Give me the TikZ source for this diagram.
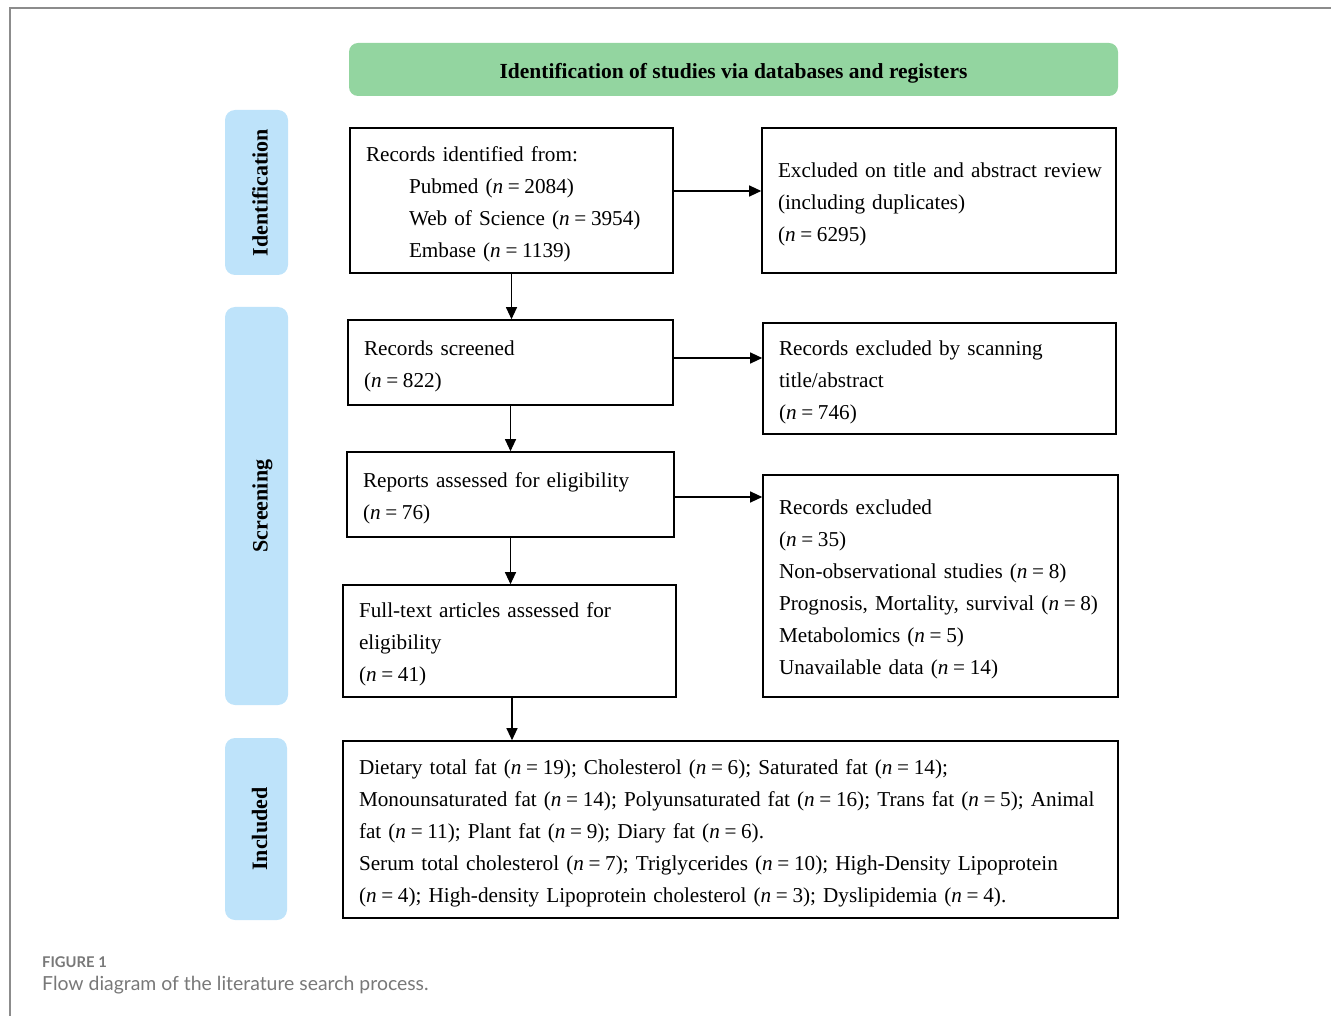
\documentclass[tikz,border=0pt]{standalone}
\usepackage{fontspec}
\setmainfont{Liberation Serif}
\newfontfamily\capfont{Lato}
\usetikzlibrary{arrows.meta}
\definecolor{hdrgreen}{RGB}{147,213,160}
\definecolor{sideblue}{RGB}{190,227,250}
\definecolor{framegray}{RGB}{140,140,140}
\definecolor{capgray}{RGB}{120,120,120}
\newcommand{\nn}{\textit{n}\hspace{0.22em}=\hspace{0.22em}}
\newcommand{\Lines}[1]{\raisebox{-2.5pt}[\height][\depth]{\begin{tabular}{@{}l@{}}#1\end{tabular}}}
\begin{document}
\begin{tikzpicture}[x=1pt,y=-1pt,
  stepbox/.style={draw, line width=1.6pt, inner xsep=16pt, inner ysep=0pt, align=left,
    font=\fontsize{21.2}{32}\selectfont},
  sidebox/.style={fill=sideblue, rounded corners=10pt, rotate=90, inner sep=0pt,
    text height=22pt, text depth=0pt,
    font=\fontsize{22}{26}\selectfont\bfseries},
  arr/.style={line width=1.1pt, -{Triangle[length=12pt,width=11pt]}}]
\useasboundingbox (0,0) rectangle (1331,1016);
\draw[framegray, line width=2pt] (10,1016) -- (10,8) -- (1331,8);
% header
\node[fill=hdrgreen, rounded corners=9pt, minimum width=769pt, minimum height=53pt,
  text height=18.4pt, text depth=0pt,
  font=\fontsize{21.5}{26}\selectfont\bfseries] (hdr) at (733.5,69.5)
  {Identification of studies via databases and registers};
% side labels
\node[sidebox, minimum width=165pt, minimum height=63pt] (sid) at (256.5,192.5) {Identification};
\node[sidebox, minimum width=398pt, minimum height=63pt] (sscr) at (256.5,506) {Screening};
\node[sidebox, minimum width=182pt, minimum height=62pt] (sinc) at (256,829) {Included};
% boxes
\node[stepbox, text width=291pt, minimum height=145pt] (b1) at (511.5,200.5)
  {\Lines{Records identified from:\\
   \hspace*{43pt}Pubmed (\nn 2084)\\
   \hspace*{43pt}Web of Science (\nn 3954)\\
   \hspace*{43pt}Embase (\nn 1139)}};
\node[stepbox, text width=322pt, minimum height=145pt] (b2) at (939,200.5)
  {\Lines{Excluded on title and abstract review\\(including duplicates)\\(\nn 6295)}};
\node[stepbox, text width=293pt, minimum height=85pt] (b3) at (510.5,362.5)
  {\Lines{Records screened\\(\nn 822)}};
\node[stepbox, text width=321pt, minimum height=111pt] (b4) at (939.5,378.5)
  {\Lines{Records excluded by scanning\\title/abstract\\(\nn 746)}};
\node[stepbox, text width=295pt, minimum height=85pt] (b5) at (510.5,494.5)
  {\Lines{Reports assessed for eligibility\\(\nn 76)}};
\node[stepbox, text width=323pt, minimum height=222pt] (b6) at (940.5,586)
  {\Lines{Records excluded\\(\nn 35)\\Non-observational studies (\nn 8)\\
   Prognosis, Mortality, survival (\nn 8)\\Metabolomics (\nn 5)\\
   Unavailable data (\nn 14)}};
\node[stepbox, text width=301pt, minimum height=112pt] (b7) at (509.5,641)
  {\Lines{Full-text articles assessed for\\eligibility\\(\nn 41)}};
\node[stepbox, text width=743pt, minimum height=177pt] (b8) at (730.5,829.5)
  {\Lines{Dietary total fat (\nn 19); Cholesterol (\nn 6); Saturated fat (\nn 14);\\
   Monounsaturated fat (\nn 14); Polyunsaturated fat (\nn 16); Trans fat (\nn 5); Animal\\
   fat (\nn 11); Plant fat (\nn 9); Diary fat (\nn 6).\\
   Serum total cholesterol (\nn 7); Triglycerides (\nn 10); High-Density Lipoprotein\\
   (\nn 4); High-density Lipoprotein cholesterol (\nn 3); Dyslipidemia (\nn 4).}};
% arrows
\draw[arr] ([yshift=9.5pt]b1.east) coordinate (s1) -- (s1 -| b2.west);
\draw[arr] ([yshift=4.5pt]b3.east) coordinate (s2) -- (s2 -| b4.west);
\draw[arr] ([yshift=-2.5pt]b5.east) coordinate (s3) -- (s3 -| b6.west);
\draw[arr] (b1.south) -- (b1.south |- b3.north);
\draw[arr] (b3.south) -- (b3.south |- b5.north);
\draw[arr] (b5.south) -- (b5.south |- b7.north);
\draw[arr] ([xshift=2.5pt]b7.south) coordinate (s4) -- (s4 |- b8.north);
% caption
\node[anchor=base west, inner sep=0pt, text=capgray, font=\capfont\fontsize{14.8}{17}\selectfont\bfseries] (fig) at (42,967) {FIGURE 1};
\node[anchor=base west, inner sep=0pt, text=capgray, font=\capfont\fontsize{19.4}{23}\selectfont] (cap) at (42,990) {Flow diagram of the literature search process.};
\end{tikzpicture}
\end{document}
